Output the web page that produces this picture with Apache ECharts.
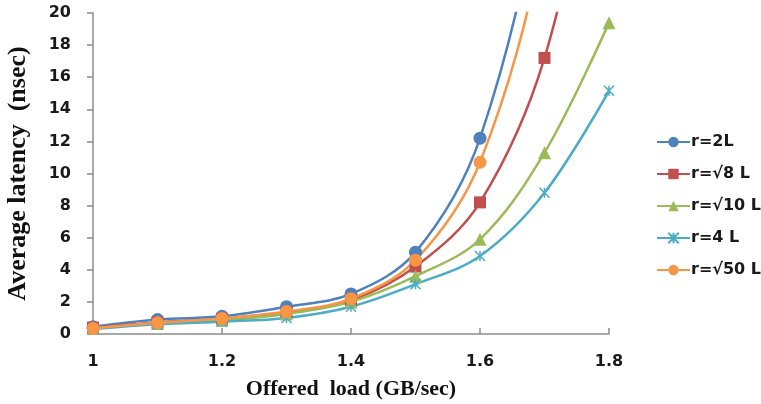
<!DOCTYPE html>
<html>
<head>
<meta charset="utf-8">
<script src="https://cdn.jsdelivr.net/npm/echarts@6/dist/echarts.min.js"></script>
<style>
  html, body { margin: 0; padding: 0; background: #fff; }
  #chart { width: 761px; height: 404px; }
</style>
</head>
<body>
<div id="chart"></div>
<script>
const loads = [1, 1.1, 1.2, 1.3, 1.4, 1.5, 1.6, 1.7, 1.8];

const r2L = [0.45, 0.9, 1.1, 1.7, 2.5, 5.1, 12.2, 29, 60];
const rSqrt8L = [0.4, 0.72, 0.95, 1.35, 2.1, 4.2, 8.2, 17.2, 35];
const rSqrt10L = [0.35, 0.65, 0.85, 1.25, 2.0, 3.6, 5.9, 11.3, 19.4];
const r4L = [0.3, 0.6, 0.77, 1.0, 1.7, 3.1, 4.86, 8.8, 15.15];
const rSqrt50L = [0.35, 0.7, 0.97, 1.4, 2.2, 4.6, 10.7, 25, 52];

const xTicks = [1, 1.2, 1.4, 1.6, 1.8];

const starPath = "path://M0,0L10,10M10,0L0,10M5,0L5,10";

function line(name, values, color, symbol, size) {
  const s = {
    type: "line",
    name,
    smooth: 0.35,
    symbol,
    symbolSize: size,
    lineStyle: { width: 2.5, color },
    itemStyle: { color },
    data: values.map((v, i) => [loads[i], v]),
  };
  if (symbol === starPath) {
    s.itemStyle = { color: "transparent", borderColor: color, borderWidth: 1.5 };
  }
  return s;
}

const chart = echarts.init(document.getElementById("chart"));
chart.setOption({
  backgroundColor: "#fff",
  animation: false,
  grid: { left: 93, right: 152, top: 13, bottom: 70, containLabel: false, outerBoundsMode: "none" },
  legend: {
    orient: "vertical",
    left: 651,
    top: 129,
    itemWidth: 33,
    itemHeight: 13,
    itemGap: 16,
    textStyle: { fontFamily: "DejaVu Sans", fontWeight: "bold", fontSize: 16, color: "#1a1a1a", padding: [0, 0, 0, -4] },
    data: ["r=2L", "r=√8 L", "r=√10 L", "r=4 L", "r=√50 L"],
  },
  xAxis: {
    type: "value",
    min: 1,
    max: 1.8,
    interval: 0.2,
    name: "Offered  load (GB/sec)",
    nameLocation: "middle",
    nameGap: 44,
    nameTextStyle: { fontFamily: "Liberation Serif", fontWeight: "bold", fontSize: 22, color: "#111" },
    axisLine: { lineStyle: { color: "#8c8c8c", width: 1.5 } },
    axisTick: { inside: true, length: 6, lineStyle: { color: "#8c8c8c", width: 1.5 } },
    splitLine: { show: false },
    axisLabel: {
      margin: 20,
      fontFamily: "DejaVu Sans",
      fontWeight: "bold",
      fontSize: 16,
      color: "#1a1a1a",
      formatter: (v) => {
        const t = xTicks.find((x) => Math.abs(x - v) < 1e-6);
        return t === undefined ? "" : String(t);
      },
    },
  },
  yAxis: {
    type: "value",
    min: 0,
    max: 20,
    interval: 2,
    name: "Average latency  (nsec)",
    nameLocation: "middle",
    nameGap: 62,
    nameTextStyle: { fontFamily: "Liberation Serif", fontWeight: "bold", fontSize: 26, color: "#111" },
    axisLine: { show: true, lineStyle: { color: "#8c8c8c", width: 1.5 } },
    axisTick: { show: true, length: 6, lineStyle: { color: "#8c8c8c", width: 1.5 } },
    splitLine: { show: false },
    axisLabel: { margin: 22, fontFamily: "DejaVu Sans", fontWeight: "bold", fontSize: 16, color: "#1a1a1a" },
  },
  series: [
    line("r=2L", r2L, "#4F81BD", "circle", 13),
    line("r=√8 L", rSqrt8L, "#C0504D", "rect", 12),
    line("r=√10 L", rSqrt10L, "#9BBB59", "triangle", 13),
    line("r=4 L", r4L, "#4BACC6", starPath, 10),
    line("r=√50 L", rSqrt50L, "#F79646", "circle", 13),
  ],
});
</script>
</body>
</html>
